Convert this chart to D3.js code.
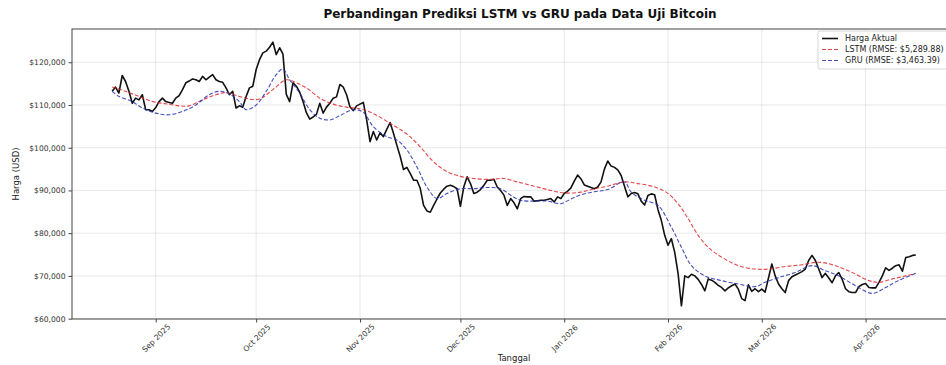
<!DOCTYPE html>
<html>
<head>
<meta charset="utf-8">
<script src="https://cdn.jsdelivr.net/npm/d3@7"></script>
<style>
  body { margin: 0; background: #fff; }
  svg { font-family: "DejaVu Sans", sans-serif; display: block; }
</style>
</head>
<body>
<svg id="chart" width="946" height="365"></svg>
<script>
// harga penutupan harian (ribu USD), mulai 2025-08-19
var actualStart = '2025-08-19'
var actualValues = [
  // Aug 19-31
  113.2, 114.2, 112.8, 116.9, 115.5, 113.2, 110.4, 111.6, 111.2, 112.4, 108.9, 108.9, 108.5,
  // Sep
  109.4, 110.8, 111.6, 110.8, 110.6, 110.4, 111.6, 112.2, 113.6, 115.2, 115.6, 116.1, 115.9, 115.5, 116.7,
  115.9, 116.5, 117.1, 115.9, 115.5, 115.3, 114.0, 112.4, 113.2, 109.3, 109.8, 109.5, 112.0, 114.0, 114.4,
  // Oct
  118.3, 120.6, 122.2, 122.6, 123.5, 124.7, 121.8, 123.4, 121.9, 112.5, 110.8, 115.2, 114.4, 113.0, 110.8,
  108.2, 106.7, 107.2, 107.8, 110.4, 108.1, 109.5, 110.4, 111.6, 111.9, 114.8, 114.2, 112.4, 109.6, 108.7, 109.8,
  // Nov
  110.2, 110.6, 106.5, 101.4, 103.8, 101.8, 103.5, 102.6, 104.3, 105.9, 103.4, 100.6, 98.0, 94.9, 95.4,
  94.0, 92.4, 92.4, 90.5, 86.5, 85.2, 84.9, 86.5, 88.0, 89.4, 90.3, 91.0, 91.2, 90.9, 90.4,
  // Dec
  86.3, 90.8, 93.2, 91.6, 89.3, 89.6, 90.2, 91.2, 92.4, 92.4, 92.6, 90.8, 90.0, 88.9, 86.5,
  88.1, 87.1, 85.7, 88.1, 88.6, 88.5, 88.5, 87.5, 87.6, 87.7, 87.7, 87.9, 88.1, 87.3, 88.5, 88.1,
  // Jan
  89.3, 89.8, 90.6, 92.2, 93.6, 92.7, 91.3, 91.0, 90.7, 90.4, 90.8, 92.0, 95.0, 96.9, 95.7,
  95.4, 94.8, 93.5, 91.0, 88.5, 89.3, 89.5, 89.2, 87.5, 86.6, 88.8, 89.2, 89.0, 85.5, 83.0, 79.5,
  // Feb
  77.2, 78.7, 75.5, 70.6, 63.0, 70.0, 69.6, 70.4, 70.0, 69.2, 68.0, 66.5, 69.3, 69.0,
  68.5, 67.8, 67.3, 66.5, 67.2, 67.7, 68.1, 66.9, 64.7, 64.2, 67.9, 66.4, 67.0, 66.3,
  // Mar
  66.9, 66.2, 69.5, 72.8, 70.0, 68.1, 67.0, 66.1, 68.9, 69.8, 70.2, 70.6, 71.0, 71.6, 73.6,
  74.8, 73.6, 71.6, 69.6, 70.6, 69.5, 68.4, 70.0, 70.8, 69.2, 67.0, 66.3, 66.1, 66.1, 67.5, 68.0,
  // Apr 1-16
  68.2, 67.3, 67.2, 67.2, 68.5, 70.0, 71.9, 71.3, 71.8, 72.4, 72.6, 71.1, 74.3, 74.5, 74.8, 74.9
]

var lstmDates = [
  '2025-08-19', '2025-08-23', '2025-08-27', '2025-08-31', '2025-09-04', '2025-09-08', '2025-09-11',
  '2025-09-15', '2025-09-19', '2025-09-22', '2025-09-26', '2025-09-29', '2025-10-02', '2025-10-06',
  '2025-10-10', '2025-10-13', '2025-10-16', '2025-10-20', '2025-10-24', '2025-10-28', '2025-11-01',
  '2025-11-05', '2025-11-10', '2025-11-15', '2025-11-19', '2025-11-23', '2025-11-27', '2025-12-01',
  '2025-12-05', '2025-12-10', '2025-12-14', '2025-12-18', '2025-12-23', '2025-12-28', '2026-01-01',
  '2026-01-06', '2026-01-10', '2026-01-14', '2026-01-19', '2026-01-23', '2026-01-28', '2026-02-01',
  '2026-02-04', '2026-02-07', '2026-02-10', '2026-02-13', '2026-02-17', '2026-02-22', '2026-02-27',
  '2026-03-03', '2026-03-08', '2026-03-13', '2026-03-18', '2026-03-23', '2026-03-28', '2026-04-02',
  '2026-04-05', '2026-04-09', '2026-04-13', '2026-04-16'
]
var lstmValues = [
  114.2, 113.2, 112.0, 110.8, 110.3, 109.8, 109.8,
  111.2, 112.4, 112.9, 112.0, 111.4, 111.4, 113.6,
  115.9, 115.2, 114.0, 111.6, 110.2, 109.5, 109.1,
  108.0, 105.7, 103.2, 100.2, 96.7, 94.4, 93.3,
  92.8, 92.6, 92.8, 92.0, 91.0, 90.0, 89.4,
  89.6, 90.4, 91.0, 92.0, 91.6, 90.8, 89.3,
  86.9, 83.4, 79.5, 76.7, 74.4, 72.4, 71.6,
  71.6, 72.2, 72.6, 73.2, 72.4, 70.8, 68.9,
  68.5, 69.3, 70.0, 70.6
]

var gruDates = [
  '2025-08-19', '2025-08-21', '2025-08-25', '2025-08-28', '2025-09-01', '2025-09-05', '2025-09-09',
  '2025-09-13', '2025-09-17', '2025-09-20', '2025-09-23', '2025-09-26', '2025-09-28', '2025-10-01',
  '2025-10-04', '2025-10-07', '2025-10-09', '2025-10-11', '2025-10-14', '2025-10-17', '2025-10-20',
  '2025-10-23', '2025-10-26', '2025-10-30', '2025-11-02', '2025-11-05', '2025-11-09', '2025-11-12',
  '2025-11-15', '2025-11-18', '2025-11-21', '2025-11-24', '2025-11-27', '2025-12-01', '2025-12-05',
  '2025-12-09', '2025-12-13', '2025-12-16', '2025-12-19', '2025-12-23', '2025-12-27', '2025-12-31',
  '2026-01-03', '2026-01-06', '2026-01-10', '2026-01-14', '2026-01-19', '2026-01-21', '2026-01-25',
  '2026-01-29', '2026-02-02', '2026-02-05', '2026-02-08', '2026-02-12', '2026-02-17', '2026-02-22',
  '2026-02-27', '2026-03-02', '2026-03-06', '2026-03-11', '2026-03-16', '2026-03-20', '2026-03-24',
  '2026-03-29', '2026-04-03', '2026-04-07', '2026-04-11', '2026-04-16'
]
var gruValues = [
  113.2, 112.0, 110.8, 109.3, 108.1, 107.7, 108.5,
  110.0, 112.4, 113.2, 112.6, 110.8, 108.9, 110.0,
  113.2, 117.1, 118.4, 115.9, 112.8, 108.9, 106.9,
  106.5, 107.5, 108.9, 108.3, 104.9, 102.6, 101.8,
  99.5, 95.5, 90.8, 88.1, 89.3, 90.4, 90.4,
  90.7, 90.4, 88.9, 87.7, 87.5, 87.5, 86.9,
  88.0, 89.0, 89.7, 90.2, 92.0, 89.6, 87.7,
  86.5, 81.4, 76.7, 72.4, 70.0, 68.9, 68.1,
  67.5, 68.5, 69.6, 70.8, 72.4, 71.2, 70.0,
  67.7, 65.9, 67.3, 69.0, 70.6
]

var yTicks = [60000, 70000, 80000, 90000, 100000, 110000, 120000]
var xTicks = ['2025-09-01', '2025-10-01', '2025-11-01', '2025-12-01', '2026-01-01', '2026-02-01', '2026-03-01', '2026-04-01']
var seriesNames = ['Harga Aktual', 'LSTM (RMSE: $5,289.88)', 'GRU (RMSE: $3,463.39)']

var parse = d3.utcParse('%Y-%m-%d')
var t0 = parse(actualStart)
var actual = actualValues.map((v, i) => ({date: d3.utcDay.offset(t0, i), value: v * 1000}))
var lstm = lstmDates.map((d, i) => ({date: parse(d), value: lstmValues[i] * 1000}))
var gru = gruDates.map((d, i) => ({date: parse(d), value: gruValues[i] * 1000}))

var plotL = 72, plotR = 956, plotT = 29, plotB = 319

var xExt = d3.extent(actual, d => d.date)
var xPad = (xExt[1] - xExt[0]) * 0.05
var x = d3.scaleUtc()
  .domain([new Date(+xExt[0] - xPad), new Date(+xExt[1] + xPad)])
  .range([plotL, plotR])

var all = actual.concat(lstm, gru)
var yExt = d3.extent(all, d => d.value)
var yPad = (yExt[1] - yExt[0]) * 0.05
var y = d3.scaleLinear()
  .domain([yExt[0] - yPad, yExt[1] + yPad])
  .range([plotB, plotT])

var svg = d3.select('#chart')

// grid
var grid = svg.append('g').attr('stroke', '#b0b0b0').attr('stroke-opacity', 0.35).attr('stroke-width', 0.8)
grid.selectAll('line.gx').data(xTicks.map(parse)).join('line')
  .attr('x1', d => x(d)).attr('x2', d => x(d)).attr('y1', plotT).attr('y2', plotB)
grid.selectAll('line.gy').data(yTicks).join('line')
  .attr('x1', plotL).attr('x2', plotR).attr('y1', d => y(d)).attr('y2', d => y(d))

var line = d3.line().x(d => x(d.date)).y(d => y(d.value))
var smooth = d3.line().x(d => x(d.date)).y(d => y(d.value)).curve(d3.curveCatmullRom.alpha(0.5))

svg.append('path').datum(actual)
  .attr('d', line)
  .attr('fill', 'none').attr('stroke', '#111').attr('stroke-width', 1.6).attr('stroke-linejoin', 'round')

svg.append('path').datum(lstm)
  .attr('d', smooth)
  .attr('fill', 'none').attr('stroke', '#e0262a').attr('stroke-opacity', 0.85)
  .attr('stroke-width', 1.1).attr('stroke-dasharray', '4,2')

svg.append('path').datum(gru)
  .attr('d', smooth)
  .attr('fill', 'none').attr('stroke', '#2230b0').attr('stroke-opacity', 0.85)
  .attr('stroke-width', 1.1).attr('stroke-dasharray', '4,2')

// frame
svg.append('rect')
  .attr('x', plotL).attr('y', plotT).attr('width', plotR - plotL).attr('height', plotB - plotT)
  .attr('fill', 'none').attr('stroke', '#444').attr('stroke-width', 1)

// axes
var fmt = d3.format(',')
var yAxis = svg.append('g').attr('transform', `translate(${plotL},0)`)
  .call(d3.axisLeft(y).tickValues(yTicks).tickSize(3.5).tickPadding(3).tickFormat(d => '$' + fmt(d)))
var xAxis = svg.append('g').attr('transform', `translate(0,${plotB})`)
  .call(d3.axisBottom(x).tickValues(xTicks.map(parse)).tickSize(3.5).tickFormat(d3.utcFormat('%b %Y')))

;[yAxis, xAxis].forEach(g => {
  g.select('.domain').remove()
  g.selectAll('.tick line').attr('stroke', '#444')
  g.selectAll('.tick text').attr('fill', '#333').style('font-size', '7.6px').style('font-family', '"DejaVu Sans", sans-serif')
})
xAxis.selectAll('.tick text')
  .attr('y', 0).attr('dy', '0.35em')
  .attr('text-anchor', 'middle')
  .attr('transform', 'translate(0,19) rotate(-45)')

// labels
svg.append('text')
  .attr('x', 520).attr('y', 18)
  .attr('text-anchor', 'middle')
  .style('font-size', '12px').style('font-weight', 'bold').attr('fill', '#111')
  .text('Perbandingan Prediksi LSTM vs GRU pada Data Uji Bitcoin')

svg.append('text')
  .attr('x', (plotL + plotR) / 2).attr('y', 361)
  .attr('text-anchor', 'middle')
  .style('font-size', '8.5px').attr('fill', '#222')
  .text('Tanggal')

svg.append('text')
  .attr('transform', `translate(19,${(plotT + plotB) / 2}) rotate(-90)`)
  .attr('text-anchor', 'middle')
  .style('font-size', '8.5px').attr('fill', '#222')
  .text('Harga (USD)')

// legend
var legend = svg.append('g').attr('transform', 'translate(818,31)')
legend.append('rect')
  .attr('width', 140).attr('height', 38).attr('rx', 2)
  .attr('fill', '#fff').attr('fill-opacity', 0.85)
  .attr('stroke', '#ccc').attr('stroke-width', 0.8)

var legendStyle = [
  {color: '#111', width: 1.6, dash: null, opacity: 1},
  {color: '#e0262a', width: 1.1, dash: '4,2', opacity: 0.85},
  {color: '#2230b0', width: 1.1, dash: '4,2', opacity: 0.85}
]
var items = legend.selectAll('g.item').data(seriesNames).join('g')
  .attr('transform', (d, i) => `translate(0,${7.5 + i * 11})`)
items.append('line')
  .attr('x1', 4).attr('x2', 20).attr('y1', 0).attr('y2', 0)
  .attr('stroke', (d, i) => legendStyle[i].color)
  .attr('stroke-width', (d, i) => legendStyle[i].width)
  .attr('stroke-opacity', (d, i) => legendStyle[i].opacity)
  .attr('stroke-dasharray', (d, i) => legendStyle[i].dash)
items.append('text')
  .attr('x', 27).attr('dy', '0.35em')
  .style('font-size', '8px').attr('fill', '#222')
  .text(d => d)
</script>
</body>
</html>
